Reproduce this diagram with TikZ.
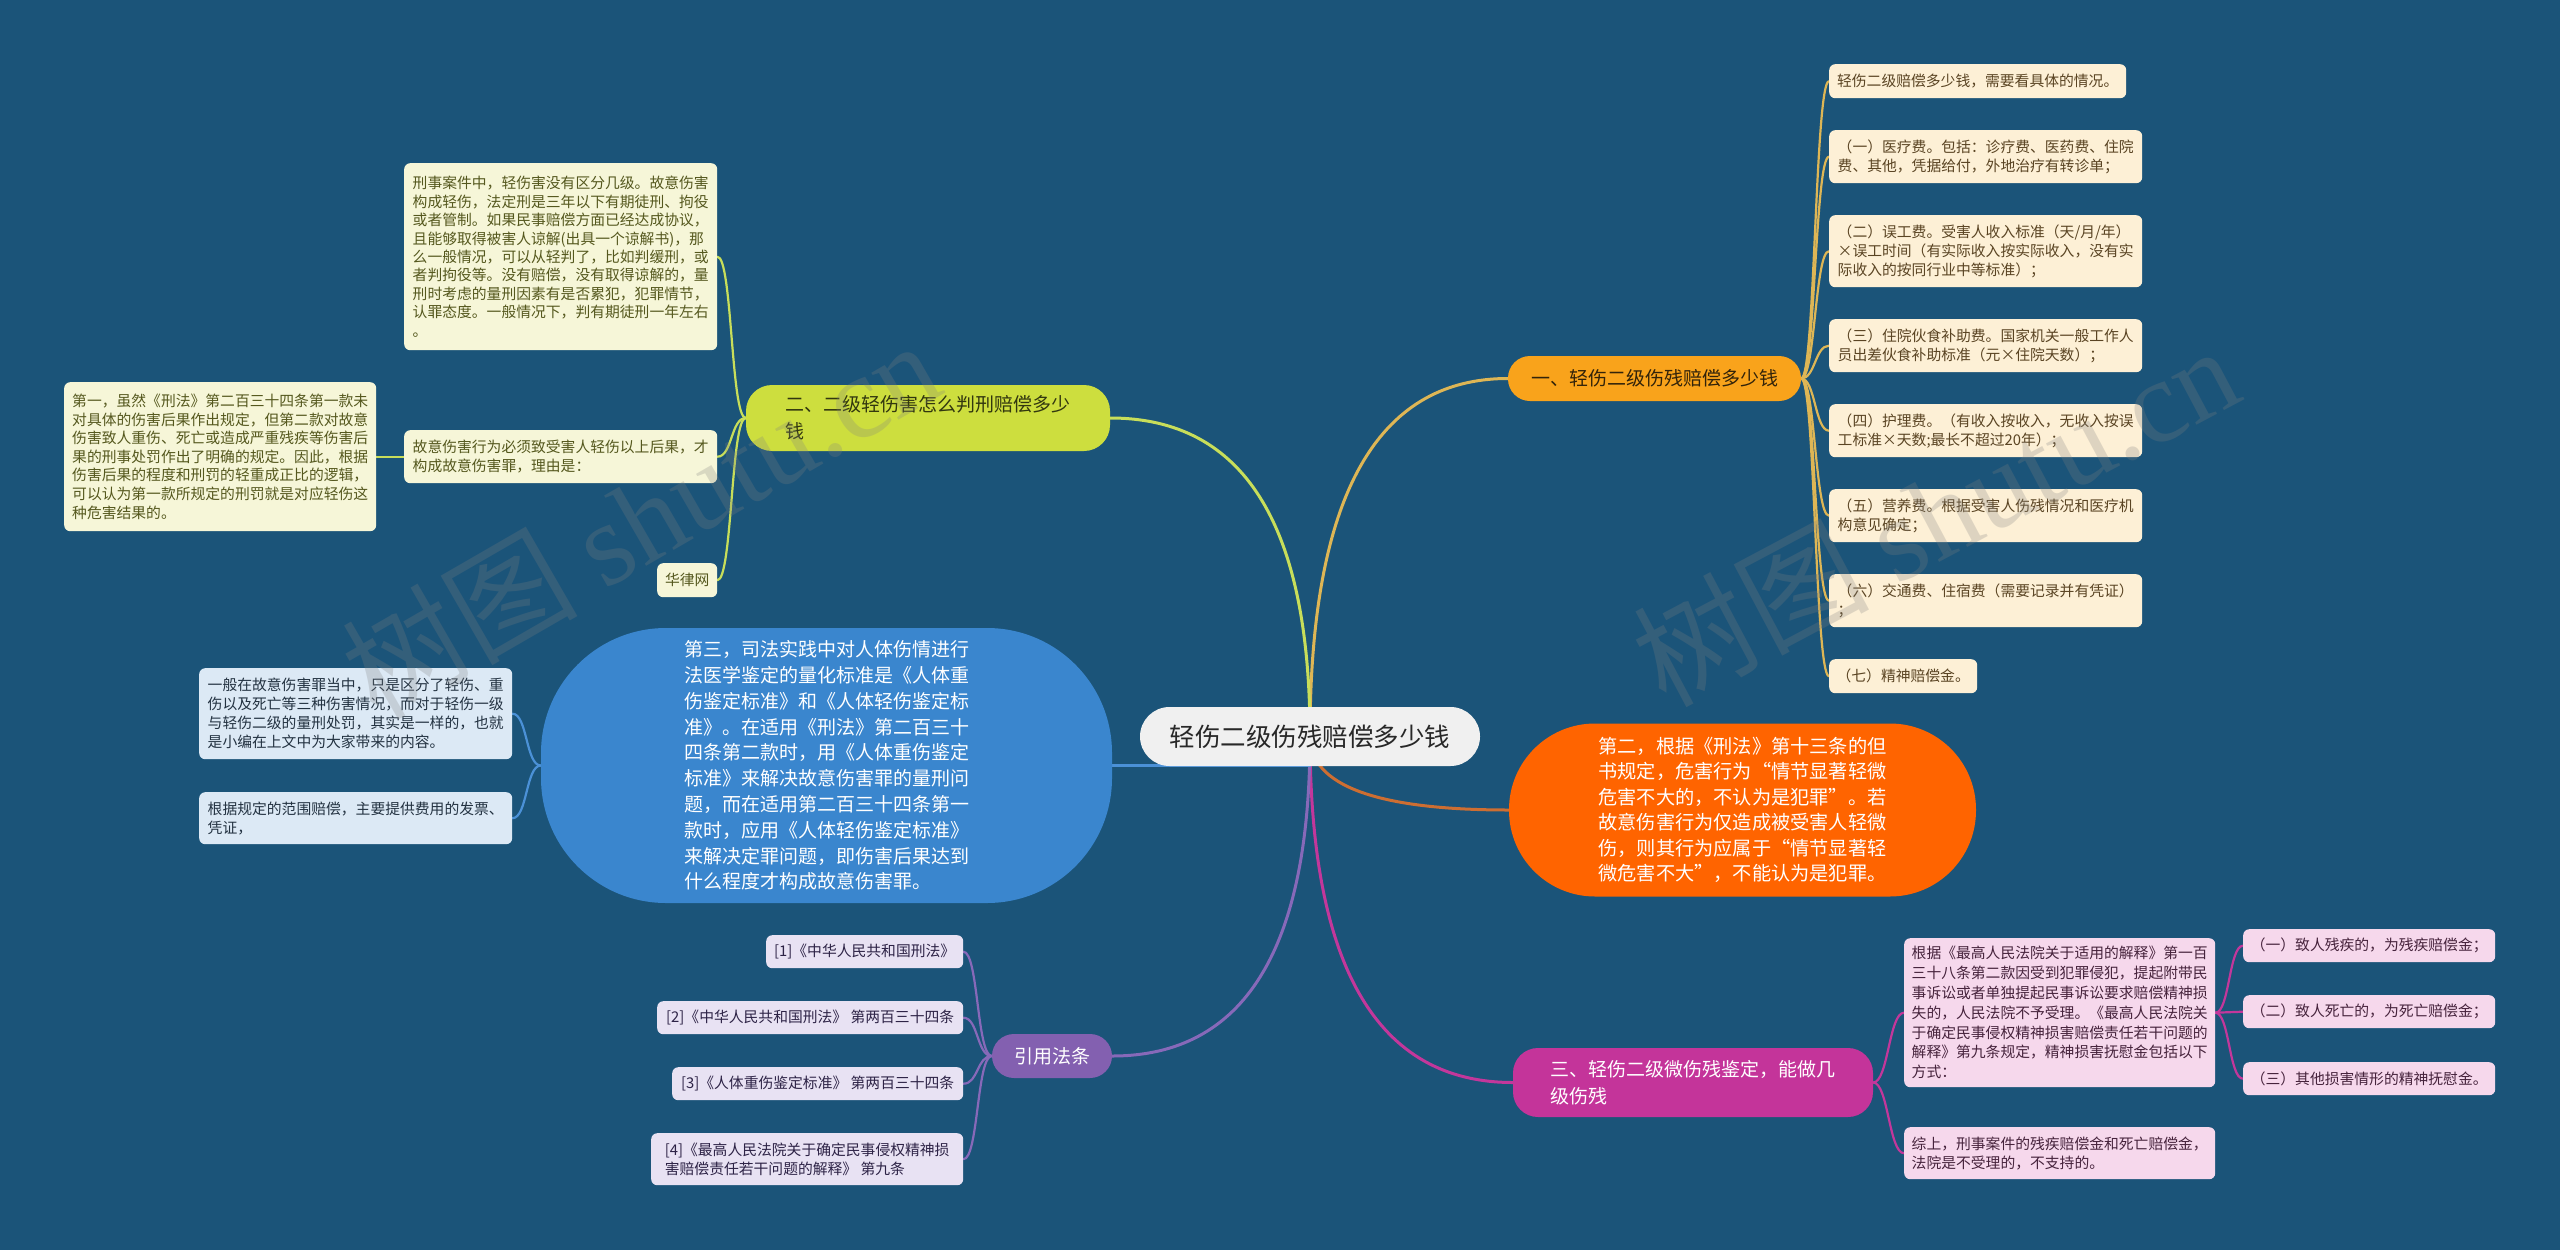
\documentclass[tikz,border=0pt]{standalone}
\usepackage{fontspec}
\setmainfont{Noto Sans CJK SC}
\newfontfamily\wmfont{Liberation Serif}
\usetikzlibrary{calc}
\pgfdeclarelayer{back}
\pgfdeclarelayer{lines}
\pgfsetlayers{back,lines,main}

\definecolor{bgc}{RGB}{27,84,121}
\definecolor{ctrf}{RGB}{240,240,240}
\definecolor{ctrt}{RGB}{40,40,40}
\definecolor{bAf}{RGB}{249,163,27}
\definecolor{bAt}{RGB}{50,35,10}
\definecolor{bBf}{RGB}{205,222,62}
\definecolor{bBt}{RGB}{50,55,15}
\definecolor{bluef}{RGB}{58,134,206}
\definecolor{ornf}{RGB}{255,100,0}
\definecolor{magf}{RGB}{196,52,154}
\definecolor{purf}{RGB}{131,96,176}
\definecolor{laf}{RGB}{253,240,214}
\definecolor{lat}{RGB}{90,68,35}
\definecolor{lbf}{RGB}{246,246,216}
\definecolor{lbt}{RGB}{85,88,30}
\definecolor{lcf}{RGB}{220,233,245}
\definecolor{lct}{RGB}{35,50,65}
\definecolor{lef}{RGB}{246,216,236}
\definecolor{let}{RGB}{70,35,60}
\definecolor{lgf}{RGB}{232,226,243}
\definecolor{lgt}{RGB}{45,35,70}
\definecolor{goldl}{RGB}{222,182,85}
\definecolor{limel}{RGB}{200,222,90}
\definecolor{bluel}{RGB}{75,145,215}
\definecolor{ornl}{RGB}{205,110,50}
\definecolor{magl}{RGB}{195,55,155}
\definecolor{purl}{RGB}{135,105,185}

\tikzset{
  leaf/.style={rounded corners=6, inner sep=0pt, align=left, anchor=north west,
    font=\fontsize{14.8}{19}\selectfont},
  la/.style={leaf, fill=laf, text=lat},
  lb/.style={leaf, fill=lbf, text=lbt},
  lc/.style={leaf, fill=lcf, text=lct},
  le/.style={leaf, fill=lef, text=let},
  lg/.style={leaf, fill=lgf, text=lgt},
  mainn/.style={inner sep=0pt, align=left},
  con/.style={line width=3, line cap=round},
  sub/.style={line width=2.2, line cap=round},
  wm/.style={text=gray, opacity=0.25, font=\fontsize{118}{125}\selectfont}
}

\begin{document}
\begin{tikzpicture}[x=1pt,y=-1pt]
\begin{pgfonlayer}{back}
\fill[bgc] (0,0) rectangle (2560,1250);
\end{pgfonlayer}
\useasboundingbox (0,0) rectangle (2560,1250);

% central
\node[mainn, fill=ctrf, text=ctrt, minimum width=340, minimum height=59, rounded corners=29.5,
  font=\fontsize{25.5}{30}\selectfont] (ctr) at (1310,736.5) {轻伤二级伤残赔偿多少钱};

% branch 1
\node[mainn, fill=bAf, text=bAt, minimum width=293, minimum height=45, rounded corners=22,
  font=\fontsize{19}{25}\selectfont] (b1) at (1654.5,378.5) {一、轻伤二级伤残赔偿多少钱};
\node[la, minimum width=297, minimum height=34] (a1) at (1829,64) {轻伤二级赔偿多少钱，需要看具体的情况。};
\node[la, minimum width=313, minimum height=53] (a2) at (1829,130) {（一）医疗费。包括：诊疗费、医药费、住院\\费、其他，凭据给付，外地治疗有转诊单；};
\node[la, minimum width=313, minimum height=72] (a3) at (1829,215) {（二）误工费。受害人收入标准（天/月/年）\\×误工时间（有实际收入按实际收入，没有实\\际收入的按同行业中等标准）；};
\node[la, minimum width=313, minimum height=53] (a4) at (1829,319) {（三）住院伙食补助费。国家机关一般工作人\\员出差伙食补助标准（元×住院天数）；};
\node[la, minimum width=313, minimum height=53] (a5) at (1829,404) {（四）护理费。（有收入按收入，无收入按误\\工标准×天数;最长不超过20年）；};
\node[la, minimum width=313, minimum height=53] (a6) at (1829,489) {（五）营养费。根据受害人伤残情况和医疗机\\构意见确定；};
\node[la, minimum width=313, minimum height=53] (a7) at (1829,574) {（六）交通费、住宿费（需要记录并有凭证）\\；};
\node[la, minimum width=148, minimum height=34] (a8) at (1829,659) {（七）精神赔偿金。};

% branch 2
\node[mainn, fill=bBf, text=bBt, minimum width=364, minimum height=66, rounded corners=26,
  font=\fontsize{19}{27}\selectfont] (b2) at (928,418) {二、二级轻伤害怎么判刑赔偿多少\\钱};
\node[lb, minimum width=313, minimum height=187, font=\fontsize{14.8}{18.4}\selectfont] (c1) at (404,163) {刑事案件中，轻伤害没有区分几级。故意伤害\\构成轻伤，法定刑是三年以下有期徒刑、拘役\\或者管制。如果民事赔偿方面已经达成协议，\\且能够取得被害人谅解(出具一个谅解书)，那\\么一般情况，可以从轻判了，比如判缓刑，或\\者判拘役等。没有赔偿，没有取得谅解的，量\\刑时考虑的量刑因素有是否累犯，犯罪情节，\\认罪态度。一般情况下，判有期徒刑一年左右\\。};
\node[lb, minimum width=313, minimum height=53] (c2) at (404,430) {故意伤害行为必须致受害人轻伤以上后果，才\\构成故意伤害罪，理由是：};
\node[lb, minimum width=60, minimum height=34] (c3) at (657,563) {华律网};
\node[lb, minimum width=312, minimum height=149, font=\fontsize{14.8}{18.6}\selectfont] (c4) at (64,382) {第一，虽然《刑法》第二百三十四条第一款未\\对具体的伤害后果作出规定，但第二款对故意\\伤害致人重伤、死亡或造成严重残疾等伤害后\\果的刑事处罚作出了明确的规定。因此，根据\\伤害后果的程度和刑罚的轻重成正比的逻辑，\\可以认为第一款所规定的刑罚就是对应轻伤这\\种危害结果的。};

% blue branch
\node[mainn, fill=bluef, text=white, minimum width=571, minimum height=275, rounded corners=125,
  font=\fontsize{19}{25.8}\selectfont] (blu) at (826.5,765.5) {第三，司法实践中对人体伤情进行\\法医学鉴定的量化标准是《人体重\\伤鉴定标准》和《人体轻伤鉴定标\\准》。在适用《刑法》第二百三十\\四条第二款时，用《人体重伤鉴定\\标准》来解决故意伤害罪的量刑问\\题，而在适用第二百三十四条第一\\款时，应用《人体轻伤鉴定标准》\\来解决定罪问题，即伤害后果达到\\什么程度才构成故意伤害罪。};
\node[lc, minimum width=313, minimum height=91] (d1) at (199,668) {一般在故意伤害罪当中，只是区分了轻伤、重\\伤以及死亡等三种伤害情况，而对于轻伤一级\\与轻伤二级的量刑处罚，其实是一样的，也就\\是小编在上文中为大家带来的内容。};
\node[lc, minimum width=313, minimum height=52] (d2) at (199,792) {根据规定的范围赔偿，主要提供费用的发票、\\凭证，};

% orange branch
\node[mainn, fill=ornf, text=white, minimum width=467, minimum height=173, rounded corners=86,
  font=\fontsize{19.2}{25.5}\selectfont] (orn) at (1742.5,810) {第二，根据《刑法》第十三条的但\\书规定，危害行为“情节显著轻微\\危害不大的，不认为是犯罪”。若\\故意伤害行为仅造成被受害人轻微\\伤，则其行为应属于“情节显著轻\\微危害不大”，不能认为是犯罪。};

% magenta branch
\node[mainn, fill=magf, text=white, minimum width=360, minimum height=69, rounded corners=25,
  font=\fontsize{19}{27}\selectfont] (mag) at (1693,1082.5) {三、轻伤二级微伤残鉴定，能做几\\级伤残};
\node[le, minimum width=311, minimum height=149, font=\fontsize{14.8}{19.8}\selectfont] (e1) at (1904,938) {根据《最高人民法院关于适用的解释》第一百\\三十八条第二款因受到犯罪侵犯，提起附带民\\事诉讼或者单独提起民事诉讼要求赔偿精神损\\失的，人民法院不予受理。《最高人民法院关\\于确定民事侵权精神损害赔偿责任若干问题的\\解释》第九条规定，精神损害抚慰金包括以下\\方式：};
\node[le, minimum width=311, minimum height=52] (e2) at (1904,1127) {综上，刑事案件的残疾赔偿金和死亡赔偿金，\\法院是不受理的，不支持的。};
\node[le, minimum width=252, minimum height=33] (f1) at (2243,929) {（一）致人残疾的，为残疾赔偿金；};
\node[le, minimum width=252, minimum height=33] (f2) at (2243,995) {（二）致人死亡的，为死亡赔偿金；};
\node[le, minimum width=252, minimum height=33] (f3) at (2243,1062) {（三）其他损害情形的精神抚慰金。};

% purple branch
\node[mainn, fill=purf, text=white, minimum width=120, minimum height=44, rounded corners=22,
  font=\fontsize{19}{25}\selectfont] (pur) at (1052,1056) {引用法条};
\node[lg, minimum width=197, minimum height=33] (g1) at (766,935) {[1]《中华人民共和国刑法》};
\node[lg, minimum width=306, minimum height=33] (g2) at (657,1001) {[2]《中华人民共和国刑法》 第两百三十四条};
\node[lg, minimum width=291, minimum height=33] (g3) at (672,1067) {[3]《人体重伤鉴定标准》 第两百三十四条};
\node[lg, minimum width=312, minimum height=52] (g4) at (651,1133) {[4]《最高人民法院关于确定民事侵权精神损\\害赔偿责任若干问题的解释》 第九条};

% connectors
\begin{pgfonlayer}{lines}
\coordinate (k1) at (ctr.center |- b1.west);
\coordinate (k2) at (ctr.center |- b2.east);
\coordinate (k4) at (ctr.center |- orn.west);
\coordinate (k5) at (ctr.center |- mag.west);
\coordinate (k6) at (ctr.center |- pur.east);
\draw[con, goldl] (ctr.center) .. controls ($(ctr.center)!0.667!(k1)$) and ($(b1.west)!0.667!(k1)$) .. (b1.west);
\draw[con, limel] (ctr.center) .. controls ($(ctr.center)!0.667!(k2)$) and ($(b2.east)!0.667!(k2)$) .. (b2.east);
\draw[con, ornl] (ctr.center) .. controls ($(ctr.center)!0.667!(k4)$) and ($(orn.west)!0.667!(k4)$) .. (orn.west);
\draw[con, magl] (ctr.center) .. controls ($(ctr.center)!0.667!(k5)$) and ($(mag.west)!0.667!(k5)$) .. (mag.west);
\draw[con, purl] (ctr.center) .. controls ($(ctr.center)!0.667!(k6)$) and ($(pur.east)!0.667!(k6)$) .. (pur.east);
\draw[con, bluel] (blu.east) -- (blu.east -| ctr.center);

\foreach \n in {a1,a2,a3,a4,a5,a6,a7,a8}
  \draw[sub, goldl] (b1.east) .. controls +(14,0) and +(-14,0) .. (\n.west);
\foreach \n in {c1,c2,c3}
  \draw[sub, limel] (b2.west) .. controls +(-15,0) and +(15,0) .. (\n.east);
\draw[sub, limel] (c2.west) -- (c4.east);
\foreach \n in {d1,d2}
  \draw[sub, bluel] (blu.west) .. controls +(-15,0) and +(15,0) .. (\n.east);
\foreach \n in {e1,e2}
  \draw[sub, magl] (mag.east) .. controls +(15,0) and +(-15,0) .. (\n.west);
\foreach \n in {f1,f2,f3}
  \draw[sub, magl] (e1.east) .. controls +(14,0) and +(-14,0) .. (\n.west);
\foreach \n in {g1,g2,g3,g4}
  \draw[sub, purl] (pur.west) .. controls +(-15,0) and +(15,0) .. (\n.east);
\end{pgfonlayer}

% watermarks
\node[wm, rotate=30] (wm1) at (640,518) {树图 {\wmfont shutu.cn}};
\node[wm, rotate=28] (wm2) at (1935,514) {树图 {\wmfont shutu.cn}};
\end{tikzpicture}
\end{document}
